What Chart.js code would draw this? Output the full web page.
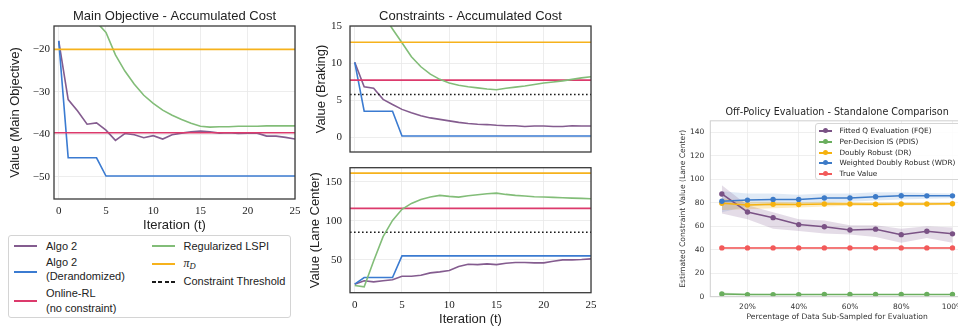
<!DOCTYPE html>
<html>
<head>
<meta charset="utf-8">
<script src="https://cdn.jsdelivr.net/npm/chart.js@4/dist/chart.umd.min.js"></script>
<style>
  html, body { margin: 0; padding: 0; width: 958px; height: 326px; overflow: hidden; background: #fff; }
  .pane { position: absolute; }
  canvas { display: block; }
  .legend { position: absolute; box-sizing: border-box; border: 1px solid #d4d4d4; border-radius: 3px; background: #fff; }
  .lg-line { position: absolute; }
  .lg-text { position: absolute; white-space: nowrap; color: #222; }
  .fig-legend .lg-text { font: 11px "Liberation Sans", Arial, sans-serif; line-height: 13px; }
  .ope-legend { background: rgba(255,255,255,0.85); border-color: #d6d6d6; }
  .ope-legend .lg-text { font: 7.3px "DejaVu Sans", sans-serif; line-height: 9px; color: #262626; }
  .lg-dot { position: absolute; width: 5px; height: 5px; border-radius: 50%; }
</style>
</head>
<body>

<div class="pane" style="left:0;top:0"><canvas id="cMain" width="300" height="234"></canvas></div>
<div class="pane" style="left:290px;top:0"><canvas id="cBrake" width="306" height="154"></canvas></div>
<div class="pane" style="left:290px;top:160px"><canvas id="cLane" width="306" height="168"></canvas></div>
<div class="pane" style="left:640px;top:90px"><canvas id="cOpe" width="340" height="236"></canvas></div>

<div class="legend fig-legend" id="figLegend" style="left:8px;top:235px;width:283px;height:83px"></div>
<div class="legend ope-legend" id="opeLegend" style="left:815px;top:123px;width:160px;height:57px"></div>

<script>
// ---------- iteration curves ----------
const ITER = [0, 1, 2, 3, 4, 5, 6, 7, 8, 9, 10, 11, 12, 13, 14, 15, 16, 17, 18, 19, 20, 21, 22, 23, 24, 25];

// main objective (accumulated cost)
const MAIN_ALGO2  = [-18.0, -31.8, -34.5, -37.6, -37.3, -39.0, -41.4, -39.8, -40.1, -40.8, -40.3, -41.1, -40.1, -39.7, -39.4, -39.2, -39.4, -39.7, -39.6, -39.8, -39.7, -39.7, -40.4, -40.4, -40.7, -41.1];
const MAIN_DERAND = [-18.0, -45.5, -45.5, -45.5, -45.5, -49.8, -49.8, -49.8, -49.8, -49.8, -49.8, -49.8, -49.8, -49.8, -49.8, -49.8, -49.8, -49.8, -49.8, -49.8, -49.8, -49.8, -49.8, -49.8, -49.8, -49.8];
const MAIN_LSPI   = [-5.0, -8.0, -10.5, -12.3, -13.6, -16.0, -21.3, -25.1, -28.2, -30.8, -32.7, -34.3, -35.5, -36.5, -37.4, -38.1, -38.3, -38.2, -38.2, -38.1, -38.1, -38.1, -38.0, -38.0, -38.0, -38.0];
const MAIN_ONLINE = -39.6;
const MAIN_PI_D   = -20.0;

// constraint: braking
const BRAKE_ALGO2  = [10.1, 6.8, 6.6, 5.1, 4.4, 3.75, 3.3, 2.9, 2.6, 2.4, 2.2, 2.0, 1.85, 1.75, 1.7, 1.6, 1.55, 1.55, 1.45, 1.5, 1.5, 1.45, 1.45, 1.55, 1.5, 1.5];
const BRAKE_DERAND = [10.1, 3.5, 3.5, 3.5, 3.5, 0.15, 0.15, 0.15, 0.15, 0.15, 0.15, 0.15, 0.15, 0.15, 0.15, 0.15, 0.15, 0.15, 0.15, 0.15, 0.15, 0.15, 0.15, 0.15, 0.15, 0.15];
const BRAKE_LSPI   = [22.0, 20.1, 18.3, 16.5, 14.6, 12.75, 10.85, 9.5, 8.5, 7.8, 7.3, 7.0, 6.8, 6.65, 6.5, 6.4, 6.6, 6.75, 6.9, 7.1, 7.3, 7.45, 7.6, 7.8, 8.0, 8.15];
const BRAKE_ONLINE = 7.7;
const BRAKE_PI_D   = 12.8;
const BRAKE_LIMIT  = 5.75;

// constraint: lane center
const LANE_ALGO2  = [18.9, 23.2, 21.9, 23.2, 24.5, 29.1, 29.1, 30.4, 33.4, 34.7, 36.4, 41.5, 44.5, 44.0, 44.9, 44.0, 45.7, 46.6, 46.6, 46.2, 46.2, 48.3, 50.0, 50.0, 50.4, 51.3];
const LANE_DERAND = [18.9, 27.4, 27.4, 27.4, 27.4, 55.1, 55.1, 55.1, 55.1, 55.1, 55.1, 55.1, 55.1, 55.1, 55.1, 55.1, 55.1, 55.1, 55.1, 55.1, 55.1, 55.1, 55.1, 55.1, 55.1, 55.1];
const LANE_LSPI   = [17.2, 15.5, 48.7, 79.8, 100.6, 114.7, 122.3, 127.4, 130.4, 132.6, 131.3, 130.4, 132.1, 133.4, 134.7, 135.5, 133.8, 132.6, 131.7, 130.9, 130.4, 130.0, 129.6, 129.1, 128.7, 128.3];
const LANE_ONLINE = 116;
const LANE_PI_D   = 161;
const LANE_LIMIT  = 85.3;

// ---------- off-policy evaluation ----------
const PCT = [10, 20, 30, 40, 50, 60, 70, 80, 90, 100];
const FQE_MEAN  = [87.6, 72.3, 67.4, 61.5, 59.6, 56.9, 57.6, 52.9, 55.8, 53.6];
const FQE_LO    = [71, 66, 58, 56, 54, 53, 51, 46, 50, 46];
const FQE_HI    = [95, 78, 72, 66, 65, 61, 61, 58, 60, 59];
const PDIS_MEAN = [2.3, 1.8, 1.8, 1.8, 1.9, 1.9, 1.9, 1.9, 1.9, 1.9];
const PDIS_LO   = [1.0, 1.2, 1.3, 1.3, 1.4, 1.4, 1.4, 1.5, 1.5, 1.5];
const PDIS_HI   = [3.6, 2.5, 2.4, 2.3, 2.4, 2.4, 2.3, 2.3, 2.3, 2.3];
const DR_MEAN   = [79.6, 78.3, 78.8, 78.6, 79.1, 79.0, 78.8, 79.0, 79.1, 79.3];
const DR_LO     = [74, 74.5, 75.5, 76, 77, 77.5, 77.5, 78, 78, 78.3];
const DR_HI     = [84, 81, 81, 80.5, 81, 80.5, 80.5, 80.5, 80.3, 80.4];
const WDR_MEAN  = [81.4, 82.4, 83.0, 83.0, 84.2, 84.2, 85.2, 86.1, 86.0, 86.0];
const WDR_LO    = [72, 77, 78, 79, 80, 81, 82, 83, 83.5, 84];
const WDR_HI    = [90, 88, 88, 87, 88, 88, 89, 89, 88.5, 88];
const TRUE_MEAN = [41.6, 41.6, 41.6, 41.6, 41.6, 41.6, 41.6, 41.6, 41.6, 41.6];
const TRUE_LO   = [40.9, 40.9, 40.9, 40.9, 40.9, 40.9, 40.9, 40.9, 40.9, 40.9];
const TRUE_HI   = [42.3, 42.3, 42.3, 42.3, 42.3, 42.3, 42.3, 42.3, 42.3, 42.3];

// ---------- styling ----------
const SANS  = '"Liberation Sans", Arial, sans-serif';
const SERIF = '"Liberation Serif", "DejaVu Serif", serif';
const DEJAVU = '"DejaVu Sans", sans-serif';
const INK = '#222222';
const GRID = '#e9e9e9';

const C_ALGO2  = '#845c8f';
const C_DERAND = '#3b7bd1';
const C_ONLINE = '#dc3a6c';
const C_LSPI   = '#82bd78';
const C_PI_D   = '#f6b21c';
const C_LIMIT  = '#1a1a1a';

const X_MIN = -0.5, X_MAX = 25;

const pts = (xs, ys) => xs.map((x, i) => ({ x, y: ys[i] }));
const hline = v => [{ x: X_MIN, y: v }, { x: X_MAX, y: v }];
const minus = v => String(Math.round(v * 100) / 100).replace('-', '\u2212');

function line(data, color, extra) {
  return Object.assign({
    data, borderColor: color, backgroundColor: color, borderWidth: 1.6,
    pointRadius: 0, tension: 0, fill: false, clip: 0
  }, extra || {});
}

const framePlugin = (color, width) => ({
  id: 'frame',
  afterDraw(chart) {
    const a = chart.chartArea, ctx = chart.ctx;
    ctx.save();
    ctx.strokeStyle = color;
    ctx.lineWidth = width;
    ctx.strokeRect(a.left, a.top, a.right - a.left, a.bottom - a.top);
    ctx.restore();
  }
});

function iterChart(id, cfg) {
  return new Chart(document.getElementById(id), {
    type: 'line',
    data: { datasets: cfg.datasets },
    plugins: [framePlugin('#3a3a3a', 1.3)],
    options: {
      responsive: false,
      animation: false,
      events: [],
      layout: { padding: { left: 0, right: 5, top: cfg.padTop || 0, bottom: cfg.padBottom || 0 } },
      plugins: {
        legend: { display: false },
        tooltip: { enabled: false },
        title: cfg.title ? {
          display: true, text: cfg.title, color: INK, fullSize: false,
          font: { family: SANS, size: 13, weight: 'normal' },
          padding: { top: 9, bottom: 1.4 }
        } : { display: false }
      },
      scales: {
        x: {
          type: 'linear', min: X_MIN, max: X_MAX,
          grid: { color: GRID, lineWidth: 0.8, drawTicks: false },
          border: { display: false },
          ticks: {
            display: cfg.showX, stepSize: 5, includeBounds: false, padding: 6,
            color: INK, font: { family: SERIF, size: 11 }, maxRotation: 0
          },
          title: {
            display: cfg.showX, text: 'Iteration (t)', color: INK,
            font: { family: SANS, size: 13 }, padding: { top: 0, bottom: 1 }
          },
          afterFit: s => { s.height = cfg.xHeight; s.paddingLeft = 0; s.paddingRight = 0; }
        },
        y: {
          min: cfg.yMin, max: cfg.yMax,
          grid: { color: GRID, lineWidth: 0.8, drawTicks: false },
          border: { display: false },
          ticks: {
            stepSize: cfg.yStep, includeBounds: false, padding: cfg.yTickPad,
            color: INK, font: { family: SERIF, size: 11 }, callback: v => minus(v)
          },
          title: {
            display: true, text: cfg.yLabel, color: INK,
            font: { family: SANS, size: 13 }, padding: { top: cfg.yTitlePad, bottom: 0 }
          },
          afterFit: s => { s.width = cfg.yWidth; s.paddingTop = 0; s.paddingBottom = 0; }
        }
      }
    }
  });
}

// Main objective
iterChart('cMain', {
  title: 'Main Objective - Accumulated Cost',
  yLabel: 'Value (Main Objective)',
  yMin: -55.2, yMax: -14.5, yStep: 10,
  yWidth: 54, yTickPad: 4, yTitlePad: 7.2,
  xHeight: 35, showX: true,
  datasets: [
    line(hline(MAIN_PI_D), C_PI_D),
    line(pts(ITER, MAIN_LSPI), C_LSPI),
    line(hline(MAIN_ONLINE), C_ONLINE),
    line(pts(ITER, MAIN_DERAND), C_DERAND),
    line(pts(ITER, MAIN_ALGO2), C_ALGO2)
  ]
});

// Braking constraint
iterChart('cBrake', {
  title: 'Constraints - Accumulated Cost',
  yLabel: 'Value (Braking)',
  yMin: -2, yMax: 15, yStep: 5,
  yWidth: 60, yTickPad: 8, yTitlePad: 23.9,
  xHeight: 0, showX: false, padBottom: 2,
  datasets: [
    line(hline(BRAKE_PI_D), C_PI_D),
    line(pts(ITER, BRAKE_LSPI), C_LSPI),
    line(hline(BRAKE_ONLINE), C_ONLINE),
    line(hline(BRAKE_LIMIT), C_LIMIT, { borderDash: [1.6, 2.4], borderWidth: 1.6 }),
    line(pts(ITER, BRAKE_DERAND), C_DERAND),
    line(pts(ITER, BRAKE_ALGO2), C_ALGO2)
  ]
});

// Lane-center constraint
iterChart('cLane', {
  title: null,
  yLabel: 'Value (Lane Center)',
  yMin: 8, yMax: 168, yStep: 50,
  yWidth: 60, yTickPad: 8, yTitlePad: 17.2,
  xHeight: 35.3, showX: true, padTop: 7.7,
  datasets: [
    line(hline(LANE_PI_D), C_PI_D),
    line(pts(ITER, LANE_LSPI), C_LSPI),
    line(hline(LANE_ONLINE), C_ONLINE),
    line(hline(LANE_LIMIT), C_LIMIT, { borderDash: [1.6, 2.4], borderWidth: 1.6 }),
    line(pts(ITER, LANE_DERAND), C_DERAND),
    line(pts(ITER, LANE_ALGO2), C_ALGO2)
  ]
});

// ---------- off-policy evaluation chart ----------
const OPE = [
  { name: 'Fitted Q Evaluation (FQE)', color: '#7a5285', band: 'rgba(122,82,133,0.20)', mean: FQE_MEAN, lo: FQE_LO, hi: FQE_HI },
  { name: 'Per-Decision IS (PDIS)', color: '#6aae5e', band: 'rgba(106,174,94,0.25)', mean: PDIS_MEAN, lo: PDIS_LO, hi: PDIS_HI },
  { name: 'Doubly Robust (DR)', color: '#f6b20f', band: 'rgba(246,178,15,0.25)', mean: DR_MEAN, lo: DR_LO, hi: DR_HI },
  { name: 'Weighted Doubly Robust (WDR)', color: '#3d7bc8', band: 'rgba(61,123,200,0.16)', mean: WDR_MEAN, lo: WDR_LO, hi: WDR_HI },
  { name: 'True Value', color: '#f25a5a', band: 'rgba(242,90,90,0.25)', mean: TRUE_MEAN, lo: TRUE_LO, hi: TRUE_HI }
];

const opeSets = [];
OPE.forEach((m, k) => {
  opeSets.push({ data: pts(PCT, m.lo), borderWidth: 0, pointRadius: 0, fill: false, order: 20 + k, borderColor: 'transparent' });
  opeSets.push({ data: pts(PCT, m.hi), borderWidth: 0, pointRadius: 0, fill: '-1', order: 20 + k, borderColor: 'transparent', backgroundColor: m.band });
});
OPE.forEach((m, k) => {
  opeSets.push({
    data: pts(PCT, m.mean), borderColor: m.color, backgroundColor: m.color, borderWidth: 1.5,
    pointRadius: 2.7, pointBorderWidth: 0, pointBackgroundColor: m.color, fill: false, tension: 0, order: 10 - k
  });
});

const OPE_INK = '#333333';
new Chart(document.getElementById('cOpe'), {
  type: 'line',
  data: { datasets: opeSets },
  plugins: [framePlugin('#cfcfcf', 1)],
  options: {
    responsive: false,
    animation: false,
    events: [],
    layout: { padding: { left: 0, right: 16, top: 0, bottom: 0 } },
    plugins: {
      legend: { display: false },
      tooltip: { enabled: false },
      title: {
        display: true, text: 'Off-Policy Evaluation - Standalone Comparison', color: '#262626', fullSize: false,
        font: { family: DEJAVU, size: 9.6, weight: 'normal' }, padding: { top: 17, bottom: 2.3 }
      }
    },
    scales: {
      x: {
        type: 'linear', min: 5.5, max: 104.5,
        grid: { color: '#ebebeb', lineWidth: 0.8, drawTicks: false },
        border: { display: false },
        ticks: { stepSize: 20, includeBounds: false, padding: 5.5, color: OPE_INK, font: { family: DEJAVU, size: 7.5 }, callback: v => v + '%', maxRotation: 0 },
        title: { display: true, text: 'Percentage of Data Sub-Sampled for Evaluation', color: OPE_INK, font: { family: DEJAVU, size: 7.6 }, padding: { top: 0, bottom: 4.5 } },
        afterFit: s => { s.height = 29.3; s.paddingLeft = 0; s.paddingRight = 0; }
      },
      y: {
        min: 0, max: 150,
        grid: { color: '#ebebeb', lineWidth: 0.8, drawTicks: false },
        border: { display: false },
        ticks: { stepSize: 20, includeBounds: false, padding: 6, color: OPE_INK, font: { family: DEJAVU, size: 7.5 } },
        title: { display: true, text: 'Estimated Constraint Value (Lane Center)', color: OPE_INK, font: { family: DEJAVU, size: 7.6 }, padding: { top: 38.2, bottom: 0 } },
        afterFit: s => { s.width = 70.3; s.paddingTop = 0; s.paddingBottom = 0; }
      }
    }
  }
});

// ---------- legends ----------
function addLine(box, x, y, w, color, dash) {
  const d = document.createElement('div');
  d.className = 'lg-line';
  d.style.left = Math.round(x) + 'px';
  d.style.top = Math.round(y - 1) + 'px';
  d.style.width = Math.round(w) + 'px';
  d.style.height = '2px';
  d.style.background = dash
    ? 'repeating-linear-gradient(90deg,' + color + ' 0 4px, transparent 4px 6.5px)'
    : color;
  box.appendChild(d);
}
function addText(box, x, yc, html, lh) {
  const t = document.createElement('div');
  t.className = 'lg-text';
  t.style.left = x + 'px';
  t.style.top = (yc - lh / 2) + 'px';
  t.innerHTML = html;
  box.appendChild(t);
}

const FIG_ITEMS = [
  { color: C_ALGO2,  lx: 5,   ly: 10,   tx: 37,  lines: [['Algo 2', 10]] },
  { color: C_DERAND, lx: 5,   ly: 36,   tx: 37,  lines: [['Algo 2', 26.7], ['(Derandomized)', 40]] },
  { color: C_ONLINE, lx: 5,   ly: 65,   tx: 37,  lines: [['Online-RL', 57.7], ['(no constraint)', 72.3]] },
  { color: C_LSPI,   lx: 143, ly: 10,   tx: 174.5, lines: [['Regularized LSPI', 10]] },
  { color: C_PI_D,   lx: 143, ly: 28,   tx: 174.5, lines: [['<span style="font-family:\'Liberation Serif\',serif;font-style:italic;font-size:12px">\u03C0</span><sub style="font-family:\'Liberation Serif\',serif;font-style:italic;font-size:8.5px;vertical-align:-2px">D</sub>', 27.7]] },
  { color: C_LIMIT,  lx: 143, ly: 46,   tx: 174.5, lines: [['Constraint Threshold', 45.7]], dash: true }
];
const figBox = document.getElementById('figLegend');
FIG_ITEMS.forEach(it => {
  addLine(figBox, it.lx, it.ly, 23, it.color, it.dash);
  it.lines.forEach(([txt, yc]) => addText(figBox, it.tx, yc, txt, 13));
});

const opeBox = document.getElementById('opeLegend');
OPE.forEach((m, k) => {
  const yc = 6.5 + k * 10.8;
  addLine(opeBox, 3, yc + 0.5, 13, m.color, false);
  const dot = document.createElement('div');
  dot.className = 'lg-dot';
  dot.style.left = (9.3 - 2.5) + 'px';
  dot.style.top = (yc - 2.5) + 'px';
  dot.style.background = m.color;
  opeBox.appendChild(dot);
  addText(opeBox, 23.5, yc, m.name, 9);
});
</script>
</body>
</html>
